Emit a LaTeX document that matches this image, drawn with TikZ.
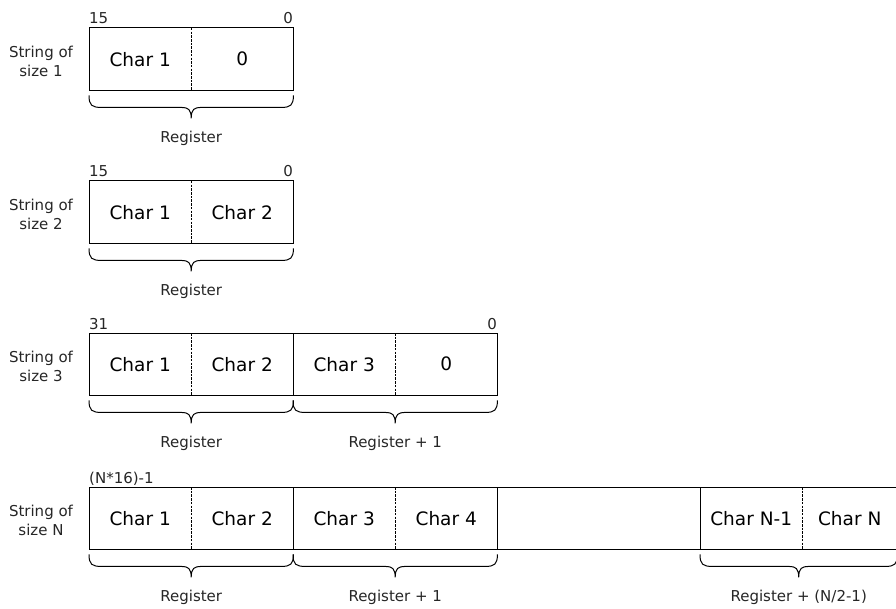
\documentclass[tikz,border=0pt]{standalone}
\usepackage{fontspec}
\setmainfont{DejaVu Sans}
\usetikzlibrary{calc}
\newcommand\cellfont{\fontsize{18.5}{20}\selectfont}
\newcommand\smallfont{\fontsize{15}{19}\selectfont}
\tikzset{
  cell/.style={minimum width=102pt, minimum height=62pt, inner sep=0pt, anchor=north west, font=\cellfont},
  regbox/.style={draw=black, line width=1pt},
  sepline/.style={draw=black, line width=1pt, dash pattern=on 2.5pt off 1.2pt},
  brc/.style={draw=black, line width=1pt},
  lab/.style={font=\smallfont, inner sep=0pt, text=black!85},
  rowlab/.style={font=\smallfont, align=center, inner sep=0pt, text=black!85},
}
\newcommand\regbrace[2]{%
  \draw[brc] let \p1=(#1), \p2=(#2), \p3=($(#1)!0.5!(#2)$) in
  (\x1,\y1-5pt) .. controls (\x1,\y1-15pt) and (\x1+3pt,\y1-17pt) .. (\x1+12pt,\y1-17pt)
  -- (\x3-10pt,\y1-17pt) .. controls (\x3-3pt,\y1-17pt) and (\x3,\y1-19pt) .. (\x3,\y1-28pt)
  .. controls (\x3,\y1-19pt) and (\x3+3pt,\y1-17pt) .. (\x3+10pt,\y1-17pt)
  -- (\x2-12pt,\y1-17pt) .. controls (\x2-3pt,\y1-17pt) and (\x2,\y1-15pt) .. (\x2,\y1-5pt);}
\begin{document}
\begin{tikzpicture}[x=1pt,y=-1pt]
\useasboundingbox (0,0) rectangle (896,609);

% ---------- Row 1 ----------
\node[rowlab] (l1) at (41,61) {String of\\size 1};
\node[cell] (c1a) at (89,28) {Char 1};
\node[cell] (c1b) at (191,28) {0};
\draw[regbox] (c1a.north west) rectangle (c1b.south east);
\draw[sepline] (c1a.north east) -- (c1a.south east);
\node[lab, anchor=base west] (t1a) at (89,24) {15};
\node[lab, anchor=base east] (t1b) at (293,24) {0};
\regbrace{c1a.south west}{c1b.south east}
\node[lab, anchor=base] (r1) at ($(c1a.south west)!0.5!(c1b.south east)+(0,52)$) {Register};

% ---------- Row 2 ----------
\node[rowlab] (l2) at (41,214) {String of\\size 2};
\node[cell] (c2a) at (89,181) {Char 1};
\node[cell] (c2b) at (191,181) {Char 2};
\draw[regbox] (c2a.north west) rectangle (c2b.south east);
\draw[sepline] (c2a.north east) -- (c2a.south east);
\node[lab, anchor=base west] (t2a) at (89,177) {15};
\node[lab, anchor=base east] (t2b) at (293,177) {0};
\regbrace{c2a.south west}{c2b.south east}
\node[lab, anchor=base] (r2) at ($(c2a.south west)!0.5!(c2b.south east)+(0,52)$) {Register};

% ---------- Row 3 ----------
\node[rowlab] (l3) at (41,366) {String of\\size 3};
\node[cell] (c3a) at (89,333) {Char 1};
\node[cell] (c3b) at (191,333) {Char 2};
\node[cell] (c3c) at (293,333) {Char 3};
\node[cell] (c3d) at (395,333) {0};
\draw[regbox] (c3a.north west) rectangle (c3b.south east);
\draw[regbox] (c3c.north west) rectangle (c3d.south east);
\draw[sepline] (c3a.north east) -- (c3a.south east);
\draw[sepline] (c3c.north east) -- (c3c.south east);
\node[lab, anchor=base west] (t3a) at (89,329) {31};
\node[lab, anchor=base east] (t3b) at (497,329) {0};
\regbrace{c3a.south west}{c3b.south east}
\regbrace{c3c.south west}{c3d.south east}
\node[lab, anchor=base] (r3a) at ($(c3a.south west)!0.5!(c3b.south east)+(0,52)$) {Register};
\node[lab, anchor=base] (r3b) at ($(c3c.south west)!0.5!(c3d.south east)+(0,52)$) {Register + 1};

% ---------- Row 4 ----------
\node[rowlab] (l4) at (41,520) {String of\\size N};
\node[cell] (c4a) at (89,487) {Char 1};
\node[cell] (c4b) at (191,487) {Char 2};
\node[cell] (c4c) at (293,487) {Char 3};
\node[cell] (c4d) at (395,487) {Char 4};
\node[cell, minimum width=203pt] (c4e) at (497,487) {};
\node[cell] (c4f) at (700,487) {Char N-1};
\node[cell, minimum width=95pt] (c4g) at (802,487) {Char N};
\draw[regbox] (c4a.north west) rectangle (c4b.south east);
\draw[regbox] (c4c.north west) rectangle (c4d.south east);
\draw[regbox] (c4e.north west) rectangle (c4e.south east);
\draw[regbox] (c4f.north west) rectangle (c4g.south east);
\draw[sepline] (c4a.north east) -- (c4a.south east);
\draw[sepline] (c4c.north east) -- (c4c.south east);
\draw[sepline] (c4f.north east) -- (c4f.south east);
\node[lab, anchor=base west] (t4a) at (89,483) {(N*16)-1};
\regbrace{c4a.south west}{c4b.south east}
\regbrace{c4c.south west}{c4d.south east}
\regbrace{c4f.south west}{c4g.south east}
\node[lab, anchor=base] (r4a) at ($(c4a.south west)!0.5!(c4b.south east)+(0,52)$) {Register};
\node[lab, anchor=base] (r4b) at ($(c4c.south west)!0.5!(c4d.south east)+(0,52)$) {Register + 1};
\node[lab, anchor=base] (r4c) at ($(c4f.south west)!0.5!(c4g.south east)+(0,52)$) {Register + (N/2-1)};
\end{tikzpicture}
\end{document}
